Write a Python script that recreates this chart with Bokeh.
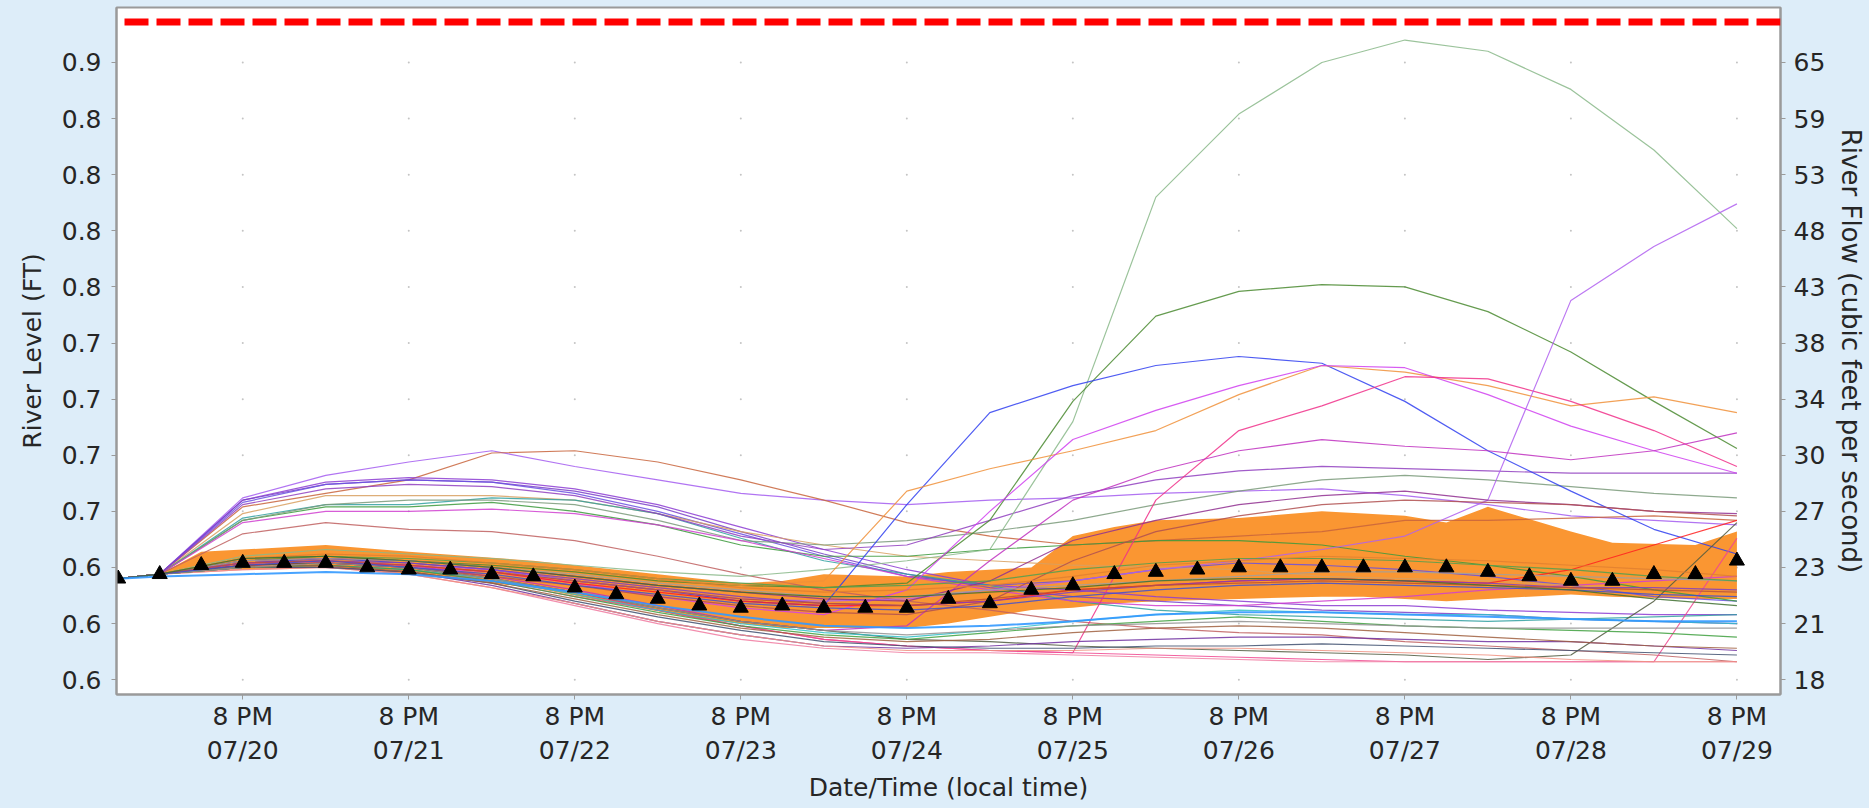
from bokeh.plotting import figure
from bokeh.models import Range1d, LinearAxis, FixedTicker, Span
from bokeh.embed import file_html
from bokeh.resources import INLINE

# ---------------- data ----------------
# hours after 07/20 02:00 (local time)
member_hours = [0, 6, 18, 30, 42, 54, 66, 78, 90, 102, 114, 126, 138, 150, 162, 174, 186, 198, 210, 222, 234]
median_hours = [0, 6, 12, 18, 24, 30, 36, 42, 48, 54, 60, 66, 72, 78, 84, 90, 96, 102, 108, 114,
                120, 126, 132, 138, 144, 150, 156, 162, 168, 174, 180, 186, 192, 198, 204, 210, 216, 222, 228, 234]
median_stage = [0.620, 0.622, 0.626, 0.627, 0.627, 0.627, 0.625, 0.624, 0.624, 0.622, 0.621, 0.616, 0.613, 0.611,
                0.608, 0.607, 0.608, 0.607, 0.607, 0.607, 0.611, 0.609, 0.615, 0.617, 0.622, 0.623, 0.624, 0.625,
                0.625, 0.625, 0.625, 0.625, 0.625, 0.623, 0.621, 0.619, 0.619, 0.622, 0.622, 0.628]

band_hours = [6, 12, 18, 30, 42, 60, 72, 84, 90, 96, 102, 114, 120, 126, 132, 138, 144, 150, 162, 174,
              180, 186, 192, 198, 210, 216, 228, 234]
band_upper = [0.622, 0.632, 0.633, 0.635, 0.632, 0.628, 0.624, 0.620, 0.618, 0.619, 0.622, 0.621, 0.623, 0.624,
              0.625, 0.639, 0.643, 0.646, 0.647, 0.650, 0.649, 0.648, 0.645, 0.652, 0.641, 0.636, 0.635, 0.641]
band_lower = [0.622, 0.624, 0.624, 0.625, 0.622, 0.616, 0.609, 0.602, 0.600, 0.598, 0.598, 0.598, 0.600, 0.603,
              0.606, 0.607, 0.609, 0.610, 0.611, 0.612, 0.612, 0.611, 0.610, 0.611, 0.613, 0.612, 0.611, 0.611]

flood_stage = 0.868

# ensemble members (river level, ft) at member_hours
u01 = [0.620,0.622,0.656,0.666,0.672,0.677,0.670,0.664,0.658,0.655,0.653,0.655,0.656,0.658,0.659,0.660,0.657,0.653,0.648,0.646,0.644]
u02 = [0.620,0.622,0.652,0.658,0.664,0.676,0.677,0.672,0.664,0.655,0.645,0.639,0.635,0.637,0.639,0.641,0.646,0.646,0.647,0.648,0.646]
u03 = [0.620,0.622,0.655,0.663,0.665,0.664,0.660,0.653,0.643,0.633,0.624,0.617,0.615,0.612,0.610,0.608,0.608,0.606,0.605,0.604,0.604]
u04 = [0.620,0.622,0.655,0.662,0.664,0.663,0.659,0.652,0.641,0.631,0.622,0.616,0.612,0.610,0.608,0.606,0.605,0.604,0.602,0.601,0.600]
u05 = [0.620,0.622,0.654,0.662,0.664,0.663,0.658,0.650,0.640,0.630,0.621,0.617,0.619,0.624,0.627,0.626,0.624,0.621,0.617,0.612,0.610]
u06 = [0.620,0.622,0.649,0.657,0.657,0.657,0.655,0.649,0.641,0.635,0.630,0.628,0.626,0.625,0.624,0.621,0.620,0.619,0.617,0.615,0.614]
u07 = [0.620,0.622,0.647,0.653,0.653,0.656,0.655,0.649,0.638,0.628,0.622,0.617,0.610,0.606,0.604,0.603,0.602,0.601,0.602,0.603,0.604]
u08 = [0.620,0.622,0.646,0.652,0.652,0.654,0.650,0.644,0.635,0.630,0.630,0.633,0.635,0.637,0.637,0.635,0.630,0.626,0.621,0.615,0.610]
u09 = [0.620,0.622,0.646,0.653,0.655,0.655,0.653,0.646,0.637,0.635,0.637,0.641,0.646,0.653,0.659,0.664,0.666,0.664,0.661,0.658,0.656]
u10 = [0.620,0.622,0.645,0.650,0.650,0.651,0.649,0.644,0.637,0.629,0.621,0.615,0.610,0.608,0.608,0.610,0.612,0.615,0.617,0.619,0.621]
u11 = [0.620,0.622,0.640,0.645,0.642,0.641,0.637,0.630,0.622,0.615,0.610,0.606,0.601,0.598,0.596,0.595,0.592,0.590,0.588,0.586,0.583]
u12 = [0.620,0.622,0.653,0.660,0.662,0.661,0.657,0.649,0.639,0.633,0.635,0.646,0.657,0.664,0.668,0.670,0.669,0.668,0.667,0.667,0.667]
m01 = [0.620,0.622,0.630,0.633,0.631,0.629,0.626,0.623,0.621,0.624,0.628,0.633,0.690,0.790,0.827,0.850,0.860,0.855,0.838,0.811,0.776]
m02 = [0.620,0.622,0.628,0.630,0.628,0.626,0.623,0.619,0.617,0.616,0.618,0.646,0.699,0.737,0.748,0.751,0.750,0.739,0.721,0.699,0.678]
m03 = [0.620,0.622,0.627,0.629,0.627,0.624,0.619,0.615,0.610,0.608,0.653,0.694,0.706,0.715,0.719,0.716,0.699,0.677,0.659,0.642,0.631]
m04 = [0.620,0.622,0.629,0.631,0.630,0.627,0.624,0.620,0.617,0.619,0.659,0.669,0.677,0.686,0.702,0.715,0.712,0.706,0.697,0.701,0.694]
m05 = [0.620,0.622,0.626,0.627,0.625,0.623,0.618,0.612,0.607,0.604,0.615,0.650,0.682,0.695,0.706,0.715,0.714,0.702,0.688,0.677,0.667]
m06 = [0.620,0.622,0.627,0.627,0.625,0.620,0.614,0.606,0.599,0.593,0.590,0.588,0.587,0.655,0.686,0.697,0.710,0.709,0.699,0.686,0.670]
m07 = [0.620,0.622,0.626,0.627,0.626,0.624,0.619,0.615,0.611,0.610,0.611,0.615,0.619,0.624,0.628,0.633,0.639,0.655,0.744,0.768,0.787]
m08 = [0.620,0.622,0.626,0.627,0.626,0.623,0.618,0.614,0.610,0.608,0.608,0.610,0.615,0.617,0.619,0.620,0.619,0.618,0.624,0.635,0.646]
m09 = [0.620,0.622,0.627,0.628,0.626,0.621,0.615,0.608,0.601,0.597,0.599,0.628,0.655,0.668,0.677,0.682,0.679,0.677,0.673,0.677,0.685]
m10 = [0.620,0.622,0.628,0.629,0.628,0.625,0.621,0.617,0.614,0.611,0.610,0.619,0.637,0.646,0.653,0.657,0.659,0.655,0.653,0.650,0.649]
m11 = [0.620,0.622,0.626,0.627,0.625,0.621,0.617,0.612,0.608,0.605,0.604,0.610,0.628,0.641,0.648,0.653,0.655,0.654,0.653,0.650,0.648]
m12 = [0.620,0.622,0.626,0.627,0.625,0.620,0.614,0.607,0.601,0.597,0.593,0.592,0.590,0.589,0.588,0.587,0.586,0.584,0.586,0.610,0.645]
m13 = [0.620,0.622,0.625,0.626,0.624,0.619,0.612,0.606,0.599,0.593,0.590,0.588,0.587,0.586,0.585,0.584,0.583,0.583,0.583,0.583,0.638]
m14 = [0.620,0.622,0.625,0.625,0.623,0.617,0.609,0.601,0.595,0.590,0.589,0.590,0.592,0.593,0.594,0.594,0.593,0.592,0.592,0.590,0.588]
m15 = [0.620,0.622,0.624,0.625,0.622,0.616,0.608,0.600,0.593,0.589,0.587,0.587,0.586,0.585,0.584,0.583,0.583,0.583,0.583,0.583,0.583]
m16 = [0.620,0.622,0.624,0.625,0.622,0.616,0.609,0.601,0.595,0.590,0.588,0.588,0.588,0.589,0.589,0.588,0.587,0.586,0.584,0.583,0.583]
m17 = [0.620,0.622,0.625,0.625,0.623,0.618,0.610,0.603,0.597,0.592,0.590,0.589,0.589,0.590,0.590,0.591,0.590,0.589,0.588,0.587,0.586]
m18 = [0.620,0.622,0.625,0.626,0.624,0.620,0.613,0.606,0.600,0.596,0.594,0.597,0.601,0.604,0.606,0.605,0.604,0.604,0.602,0.601,0.600]
m19 = [0.620,0.622,0.625,0.626,0.624,0.619,0.612,0.605,0.599,0.595,0.593,0.596,0.599,0.601,0.603,0.601,0.599,0.598,0.597,0.596,0.594]
m20 = [0.620,0.622,0.625,0.626,0.623,0.618,0.611,0.604,0.598,0.594,0.592,0.593,0.596,0.598,0.599,0.598,0.596,0.594,0.592,0.590,0.589]
m21 = [0.620,0.622,0.625,0.627,0.625,0.620,0.614,0.607,0.601,0.597,0.595,0.597,0.599,0.600,0.601,0.600,0.599,0.598,0.598,0.598,0.598]
m22 = [0.620,0.622,0.628,0.629,0.628,0.625,0.622,0.618,0.615,0.612,0.612,0.615,0.617,0.619,0.621,0.623,0.623,0.622,0.621,0.620,0.619]
m23 = [0.620,0.622,0.629,0.630,0.629,0.627,0.624,0.620,0.618,0.616,0.617,0.619,0.624,0.627,0.629,0.629,0.628,0.626,0.624,0.621,0.619]
m24 = [0.620,0.622,0.629,0.631,0.630,0.627,0.624,0.620,0.616,0.614,0.615,0.617,0.621,0.626,0.628,0.630,0.629,0.628,0.626,0.624,0.621]
m25 = [0.620,0.622,0.627,0.628,0.627,0.624,0.620,0.616,0.612,0.609,0.608,0.610,0.614,0.617,0.619,0.620,0.619,0.618,0.616,0.616,0.615]
m26 = [0.620,0.622,0.627,0.628,0.626,0.623,0.619,0.615,0.611,0.609,0.608,0.611,0.615,0.617,0.618,0.619,0.618,0.617,0.616,0.615,0.614]
m27 = [0.620,0.622,0.626,0.628,0.625,0.622,0.617,0.613,0.609,0.607,0.606,0.608,0.612,0.615,0.617,0.618,0.617,0.616,0.615,0.613,0.612]
m28 = [0.620,0.622,0.629,0.630,0.628,0.625,0.621,0.617,0.614,0.612,0.612,0.614,0.616,0.619,0.620,0.620,0.619,0.617,0.615,0.611,0.608]
m29 = [0.620,0.621,0.622,0.623,0.622,0.619,0.614,0.608,0.603,0.599,0.598,0.599,0.601,0.604,0.605,0.605,0.604,0.603,0.602,0.601,0.601]

# axis ticks
stage_ticks = [0.575, 0.6, 0.625, 0.65, 0.675, 0.7, 0.725, 0.75, 0.775, 0.8, 0.825, 0.85]
stage_labels = ["0.6", "0.6", "0.6", "0.7", "0.7", "0.7", "0.7", "0.8", "0.8", "0.8", "0.8", "0.9"]
flow_labels = ["18", "21", "23", "27", "30", "34", "38", "43", "48", "53", "59", "65"]
time_ticks = [18, 42, 66, 90, 114, 138, 162, 186, 210, 234]
time_labels = ["8 PM\n07/20", "8 PM\n07/21", "8 PM\n07/22", "8 PM\n07/23", "8 PM\n07/24",
               "8 PM\n07/25", "8 PM\n07/26", "8 PM\n07/27", "8 PM\n07/28", "8 PM\n07/29"]

members = [
    (u01, "#a35cf0"), (u02, "#c8643c"), (u03, "#8c3cd2"), (u04, "#7a40c8"), (u05, "#6a50e0"),
    (u06, "#d8a060"), (u07, "#30a0a0"), (u08, "#3c9a3c"), (u09, "#7a9a7a"), (u10, "#d040d0"),
    (u11, "#c06060"), (u12, "#9040c0"),
    (m01, "#8ab88a"), (m02, "#4a8a30"), (m03, "#3040f0"), (m04, "#f0903a"), (m05, "#d040f0"),
    (m06, "#f0308a"), (m07, "#b060f0"), (m08, "#ff2020"), (m09, "#c030c0"), (m10, "#903090"),
    (m11, "#b05050"), (m12, "#505a40"), (m13, "#f04890"), (m14, "#7030a0"), (m15, "#f07aa0"),
    (m16, "#f09080"), (m17, "#405070"), (m18, "#30c0c8"), (m19, "#40a040"), (m20, "#a06040"),
    (m21, "#909090"), (m22, "#a0a0a0"), (m23, "#50a050"), (m24, "#e08030"), (m25, "#8040c0"),
    (m26, "#c05030"), (m27, "#4050d0"), (m28, "#407030"),
]

# ---------------- figure ----------------
BG = "#ddedf9"
FONT = "DejaVu Sans"
TEXT = "#262626"
AXIS = "#9a9a9a"

p = figure(width=1869, height=808, output_backend="svg", toolbar_location=None,
           x_range=Range1d(-0.25, 240.3), y_range=Range1d(0.5684, 0.8745),
           min_border_left=116, min_border_right=87, min_border_top=7, min_border_bottom=114)
p.background_fill_color = "white"
p.border_fill_color = BG
p.outline_line_color = AXIS
p.outline_line_width = 2
p.xgrid.visible = False
p.ygrid.visible = False

# grid dots at tick intersections
gx = [t for t in time_ticks for _ in stage_ticks]
gy = [s for _ in time_ticks for s in stage_ticks]
p.scatter(gx, gy, size=2, color="#c4c4c4", line_color=None)

# spread band
p.varea(x=band_hours, y1=band_lower, y2=band_upper, fill_color="#fa9632", fill_alpha=1.0)

# ensemble traces
for vals, col in members:
    p.line(member_hours, vals, line_color=col, line_width=1.2, line_alpha=0.85)
p.line(member_hours, m29, line_color="#3399ff", line_width=2, line_alpha=0.9)

# median markers
p.scatter(median_hours, median_stage, marker="triangle", size=15, color="black")

# flood line
p.add_layout(Span(location=flood_stage, dimension="width", line_color="#ff0000", line_width=7,
                  line_dash="24 8", line_dash_offset=24))

# axes
def style(ax, label_size="25px"):
    ax.axis_line_color = AXIS
    ax.axis_line_width = 2
    ax.major_tick_line_color = AXIS
    ax.major_tick_line_width = 1
    ax.major_tick_out = 5
    ax.major_tick_in = 0
    ax.minor_tick_line_color = None
    ax.major_label_text_font = FONT
    ax.major_label_text_font_size = "25px"
    ax.major_label_text_color = TEXT
    ax.axis_label_text_font = FONT
    ax.axis_label_text_font_size = label_size
    ax.axis_label_text_font_style = "normal"
    ax.axis_label_text_color = TEXT

xa = p.xaxis[0]
style(xa)
xa.ticker = FixedTicker(ticks=time_ticks)
xa.major_label_overrides = dict(zip(time_ticks, time_labels))
xa.axis_label = "Date/Time (local time)"
xa.major_label_standoff = 2
xa.axis_label_standoff = 5

ya = p.yaxis[0]
style(ya)
ya.ticker = FixedTicker(ticks=stage_ticks)
ya.major_label_overrides = dict(zip(stage_ticks, stage_labels))
ya.axis_label = "River Level (FT)"
ya.major_label_standoff = 10
ya.axis_label_standoff = 12

p.extra_y_ranges = {"flow": Range1d(0.5684, 0.8745)}
ra = LinearAxis(y_range_name="flow")
style(ra, "26px")
ra.ticker = FixedTicker(ticks=stage_ticks)
ra.major_label_overrides = dict(zip(stage_ticks, flow_labels))
ra.axis_label = "River Flow (cubic feet per second)"
ra.major_label_standoff = 8
ra.axis_label_standoff = 8
p.add_layout(ra, "right")

html = file_html(p, INLINE, title="River forecast")
html = html.replace("</head>", "<style>body{background:%s;}</style></head>" % BG, 1)
open("out.html", "w").write(html)
